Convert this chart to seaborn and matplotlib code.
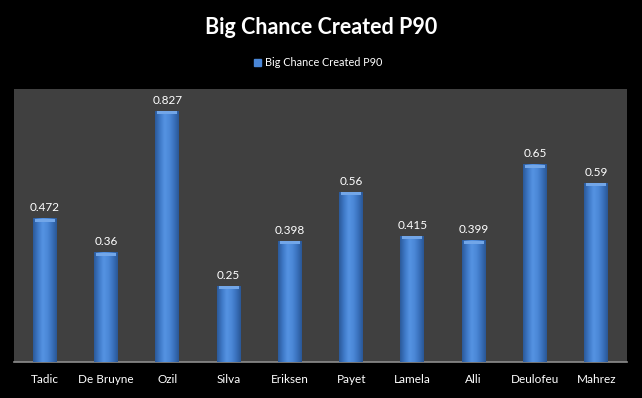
import numpy as np
import pandas as pd
import seaborn as sns
import matplotlib
matplotlib.use("Agg")
import matplotlib.pyplot as plt
from matplotlib.colors import LinearSegmentedColormap
from matplotlib.patches import Rectangle

# Data
players = ["Tadic", "De Bruyne", "Ozil", "Silva", "Eriksen",
           "Payet", "Lamela", "Alli", "Deulofeu", "Mahrez"]
big_chances_p90 = [0.472, 0.36, 0.827, 0.25, 0.398,
                   0.56, 0.415, 0.399, 0.65, 0.59]
value_labels = ["0.472", "0.36", "0.827", "0.25", "0.398",
                "0.56", "0.415", "0.399", "0.65", "0.59"]
series_name = "Big Chance Created P90"

sns.set_style("white")
plt.rcParams["font.family"] = ["Lato", "DejaVu Sans"]

df = pd.DataFrame({"player": players, "value": big_chances_p90})

fig = plt.figure(figsize=(6.42, 3.98), dpi=100, facecolor="black")
ax = fig.add_axes([0.022, 0.0905, 0.9545, 0.686])
ax.set_facecolor("#404040")

sns.barplot(data=df, x="player", y="value", color="#4A86D6", width=0.39,
            saturation=1, ax=ax, zorder=2)

# cylinder-like shading on each bar
cyl = LinearSegmentedColormap.from_list(
    "cyl", ["#2B5A9A", "#3E78C6", "#5593E2", "#4C89D8", "#3A72BE", "#2A5796"])
grad = np.linspace(0, 1, 64).reshape(1, -1)
for p in list(ax.patches):
    x0, w, h = p.get_x(), p.get_width(), p.get_height()
    p.set_visible(False)
    ax.imshow(grad, cmap=cyl, aspect="auto", extent=[x0, x0 + w, 0, h],
              zorder=3, interpolation="bicubic")
    # lighter top bevel
    ax.add_patch(Rectangle((x0 + w * 0.08, h - 0.009), w * 0.84, 0.009,
                           color="#72A6E8", zorder=4, lw=0))

for i, (v, lab) in enumerate(zip(big_chances_p90, value_labels)):
    ax.text(i, v + 0.018, lab, ha="center", va="bottom", color="white",
            fontsize=8.5)

ax.set_xlim(-0.5, len(players) - 0.5)
ax.set_ylim(0, 0.9)
ax.set_xlabel("")
ax.set_ylabel("")
ax.set_yticks([])
ax.tick_params(axis="x", colors="white", labelsize=8.5, length=0, pad=9)
for s in ["top", "right", "left"]:
    ax.spines[s].set_visible(False)
ax.spines["bottom"].set_color("#8C8C8C")
ax.spines["bottom"].set_linewidth(1.2)

fig.text(0.5, 0.932, "Big Chance Created P90", ha="center", va="center",
         color="white", fontsize=15.5, fontweight="bold")

# legend
fig.patches.append(Rectangle((0.395, 0.835), 0.011, 0.018,
                             transform=fig.transFigure, color="#4A86D6"))
fig.text(0.413, 0.844, series_name, ha="left", va="center", color="white",
         fontsize=7.8)

fig.savefig("out.png", dpi=100, facecolor="black")
